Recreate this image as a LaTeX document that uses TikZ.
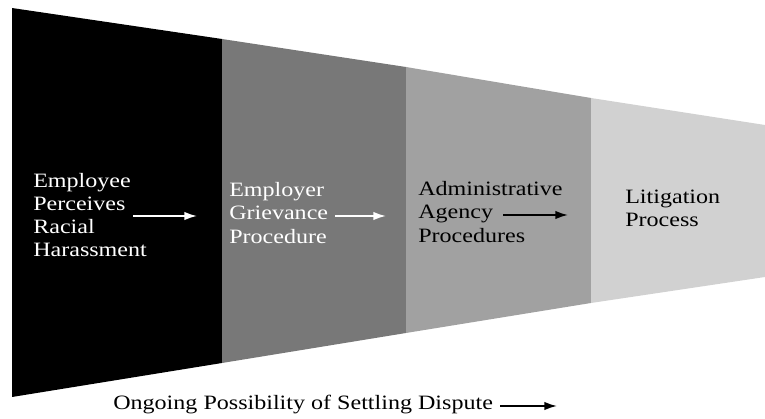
\documentclass[tikz,border=0pt]{standalone}
\usepackage{fontspec}
\setmainfont{Liberation Serif}[FakeStretch=1.18]
\usetikzlibrary{arrows.meta}
\tikzset{
  stage/.style={draw=none},
  lbl/.style={anchor=west, align=left, inner sep=0pt, font=\fontsize{14.5}{16.5}\selectfont},
  warr/.style={-{Latex[length=9pt,width=6pt]}, white, line width=1.2pt},
  barr/.style={-{Latex[length=9pt,width=6pt]}, black, line width=1.2pt}
}

\begin{document}
\begin{tikzpicture}[x=0.025cm, y=-0.025cm]
  \useasboundingbox (0,0) rectangle (765,419);

  % funnel stages
  \fill[black]       (12,8)   -- (222,39) -- (222,363) -- (12,397)  -- cycle;
  \fill[black!53]    (222,39) -- (406,67) -- (406,333) -- (222,363) -- cycle;
  \fill[black!37]    (406,67) -- (591,98) -- (591,303) -- (406,333) -- cycle;
  \fill[black!18]    (591,98) -- (765,125) -- (765,277) -- (591,303) -- cycle;

  \node[lbl, white] (emp) at (33,215) {Employee\\Perceives\\Racial\\Harassment};
  \node[lbl, white] (grv) at (229,213) {Employer\\Grievance\\Procedure};
  \node[lbl] (agy) at (418,212) {Administrative\\Agency\\Procedures};
  \node[lbl] (lit) at (625,208) {Litigation\\Process};
  \node[lbl] (set) at (113,405) {Ongoing Possibility of Settling Dispute};

  \coordinate (a1s) at (133,216);
  \coordinate (a1e) at (197,216);
  \coordinate (a2s) at (335,216);
  \coordinate (a2e) at (386,216);
  \coordinate (a3s) at (503,215);
  \coordinate (a3e) at (568,215);
  \coordinate (a4s) at (500,406);
  \coordinate (a4e) at (557,406);

  \draw[warr] (a1s) -- (a1e);
  \draw[warr] (a2s) -- (a2e);
  \draw[barr] (a3s) -- (a3e);
  \draw[barr] (a4s) -- (a4e);
\end{tikzpicture}
\end{document}
